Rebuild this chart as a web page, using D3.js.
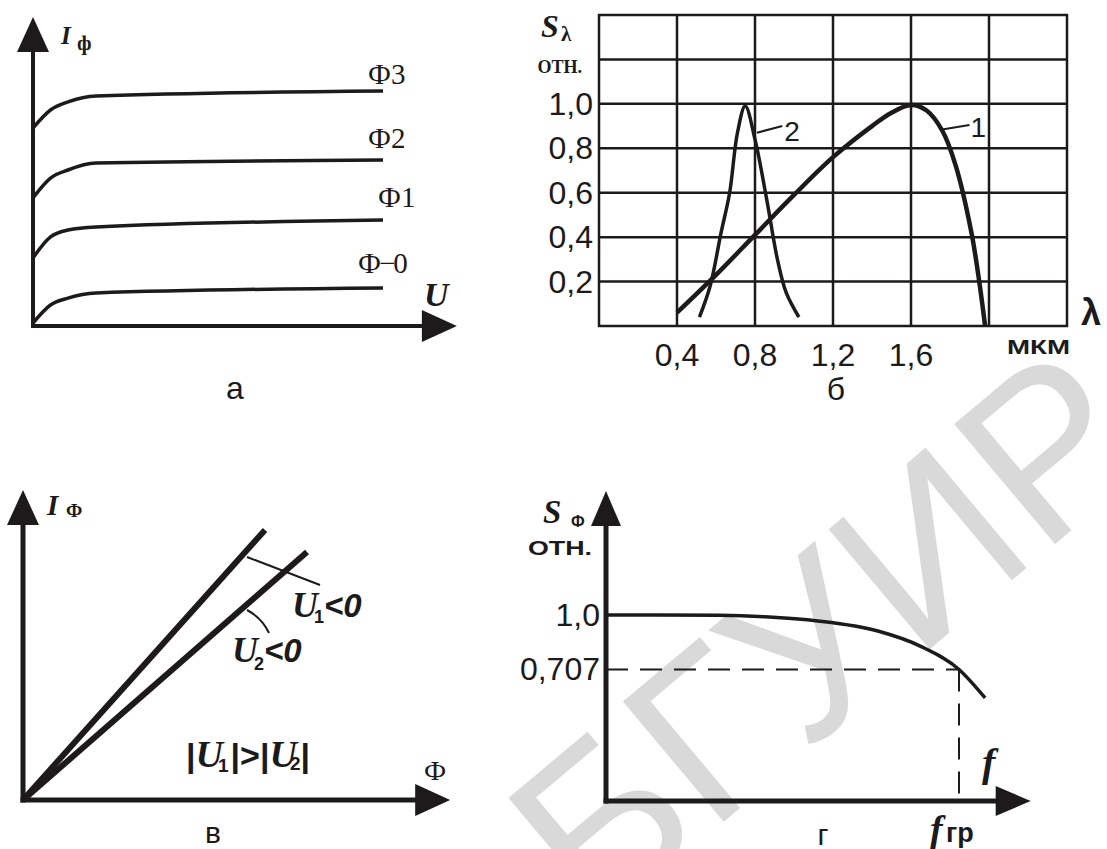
<!DOCTYPE html>
<html>
<head>
<meta charset="utf-8">
<script src="https://cdn.jsdelivr.net/npm/d3@7"></script>
<style>
  body { margin: 0; background: #fff; }
  text { fill: #1c1a1a; }
</style>
</head>
<body>
<div id="chart"></div>
<script>
// ---- panel а : I(U) for several fluxes
var uVals  = [0, 0.5, 1, 1.8, 10];
var iPhi0  = [0.1, 0.7, 0.93, 1.1, 1.27];
var iPhi1  = [2.27, 2.97, 3.2, 3.3, 3.53];
var iPhi2  = [4.27, 4.93, 5.2, 5.43, 5.53];
var iPhi3  = [6.6, 7.2, 7.47, 7.67, 7.83];
var fluxLabels = ["Ф−0", "Ф1", "Ф2", "Ф3"];

// ---- panel б : spectral sensitivity
var lambdaTicks  = [0.4, 0.8, 1.2, 1.6];
var lambdaLabels = ["0,4", "0,8", "1,2", "1,6"];
var sTicks  = [1.0, 0.8, 0.6, 0.4, 0.2];
var sLabels = ["1,0", "0,8", "0,6", "0,4", "0,2"];
var curve1L = [0.4, 0.6, 0.8, 1.0, 1.2, 1.4, 1.5, 1.6, 1.68, 1.76, 1.83, 1.91, 1.95, 1.98];
var curve1S = [0.06, 0.23, 0.41, 0.59, 0.76, 0.9, 0.96, 0.995, 0.97, 0.88, 0.72, 0.42, 0.2, 0.0];
var curve2L = [0.515, 0.57, 0.626, 0.67, 0.71, 0.75, 0.8, 0.86, 0.915, 0.96, 1.025];
var curve2S = [0.04, 0.18, 0.42, 0.6, 0.87, 0.99, 0.84, 0.57, 0.3, 0.15, 0.04];

// ---- panel в : I(Ф) at two voltages
var line1Phi = [0, 6.05], line1I = [0, 9.0];
var line2Phi = [0, 7.1],  line2I = [0, 8.27];

// ---- panel г : S(f)
var fVals  = [0, 0.15, 0.32, 0.45, 0.6, 0.77, 0.89, 1.0, 1.074];
var sfVals = [1.0, 1.0, 0.998, 0.99, 0.968, 0.914, 0.833, 0.707, 0.554];
var sfTicks  = [1.0, 0.707];
var sfLabels = ["1,0", "0,707"];

var width = 1107, height = 849;
var ink = "#1c1a1a";
var serif = "'Liberation Serif', 'DejaVu Serif', serif";
var sans  = "'Liberation Sans', Arial, sans-serif";

var svg = d3.select("#chart").append("svg")
    .attr("width", width).attr("height", height)
    .style("background", "#fff");

// watermark
svg.append("text")
    .attr("transform", "translate(595,930) rotate(-40)")
    .style("font-family", sans)
    .style("font-size", "228px")
    .style("fill", "#d9d9d9")
    .text("БГУИР");

function arrowHead(g, tip, dir, len, half) {
    // dir: "up" or "right"
    var pts;
    if (dir == "up") pts = [[tip[0], tip[1]], [tip[0] - half, tip[1] + len], [tip[0] + half, tip[1] + len]];
    else pts = [[tip[0], tip[1]], [tip[0] - len, tip[1] - half], [tip[0] - len, tip[1] + half]];
    g.append("polygon").attr("points", pts.join(" ")).attr("fill", ink);
}

function axes(g, x0, y0, yTip, xTip, len, half, sw) {
    g.append("line").attr("x1", x0).attr("y1", y0 + sw / 2).attr("x2", x0).attr("y2", yTip + len - 1)
        .attr("stroke", ink).attr("stroke-width", sw);
    g.append("line").attr("x1", x0 - sw / 2).attr("y1", y0).attr("x2", xTip - len + 1).attr("y2", y0)
        .attr("stroke", ink).attr("stroke-width", sw);
    arrowHead(g, [x0, yTip], "up", len, half);
    arrowHead(g, [xTip, y0], "right", len, half);
}

function addText(g, x, y, str, font, size, weight, style, anchor) {
    return g.append("text").attr("x", x).attr("y", y)
        .style("font-family", font).style("font-size", size + "px")
        .style("font-weight", weight || "normal").style("font-style", style || "normal")
        .attr("text-anchor", anchor || "start")
        .text(str);
}

// ================= panel а
var gA = svg.append("g");
var xA = d3.scaleLinear().domain([0, 10]).range([33, 383]);
var yA = d3.scaleLinear().domain([0, 10]).range([326, 26]);
axes(gA, xA(0), yA(0), yA(10.3), xA(12.11), 35, 16, 4);

var lineA = d3.line().x(d => xA(d[0])).y(d => yA(d[1])).curve(d3.curveMonotoneX);
[iPhi0, iPhi1, iPhi2, iPhi3].forEach(function (arr, k) {
    gA.append("path")
        .attr("d", lineA(uVals.map((u, i) => [u, arr[i]])))
        .attr("fill", "none").attr("stroke", ink).attr("stroke-width", 3.5);
});
var labPos = [[358, 273], [378, 207], [368, 148], [368, 84]];
fluxLabels.forEach(function (t, k) {
    addText(gA, labPos[k][0], labPos[k][1], t, serif, 29).style("letter-spacing", k == 0 ? "-2px" : "0px");
});
addText(gA, 424, 306, "U", serif, 34, "bold", "italic");
addText(gA, 61, 44, "I", serif, 25, "bold", "italic");
addText(gA, 77, 50, "ф", serif, 21, "bold");
addText(gA, 235, 399, "а", sans, 32, "normal", "normal", "middle");

// ================= panel б
var gB = svg.append("g");
var xB = d3.scaleLinear().domain([0, 2.4]).range([599, 1067]);
var yB = d3.scaleLinear().domain([0, 1.4]).range([326, 15]);
var gridX = d3.range(0, 2.41, 0.4), gridY = d3.range(0, 1.41, 0.2);
gB.selectAll(".vx").data(gridX).enter().append("line")
    .attr("x1", d => xB(d)).attr("x2", d => xB(d)).attr("y1", yB(0) + 1).attr("y2", yB(1.4) - 1)
    .attr("stroke", ink).attr("stroke-width", 2.5);
gB.selectAll(".hy").data(gridY).enter().append("line")
    .attr("y1", d => yB(d)).attr("y2", d => yB(d)).attr("x1", xB(0) - 1).attr("x2", xB(2.4) + 1)
    .attr("stroke", ink).attr("stroke-width", 2.5);

var lineB = d3.line().x(d => xB(d[0])).y(d => yB(d[1])).curve(d3.curveCatmullRom);
gB.append("path").attr("d", lineB(curve1L.map((l, i) => [l, curve1S[i]])))
    .attr("fill", "none").attr("stroke", ink).attr("stroke-width", 4.5);
gB.append("path").attr("d", lineB(curve2L.map((l, i) => [l, curve2S[i]])))
    .attr("fill", "none").attr("stroke", ink).attr("stroke-width", 3.5);

// curve number leaders
gB.append("line").attr("x1", xB(0.81)).attr("y1", yB(0.87)).attr("x2", xB(0.94)).attr("y2", yB(0.9))
    .attr("stroke", ink).attr("stroke-width", 2);
addText(gB, xB(0.95), yB(0.835), "2", sans, 28);
gB.append("line").attr("x1", xB(1.76)).attr("y1", yB(0.885)).attr("x2", xB(1.9)).attr("y2", yB(0.905))
    .attr("stroke", ink).attr("stroke-width", 2);
addText(gB, xB(1.905), yB(0.85), "1", sans, 28);

sTicks.forEach(function (v, i) {
    addText(gB, 593, yB(v) + 11, sLabels[i], sans, 32, "normal", "normal", "end");
});
lambdaTicks.forEach(function (v, i) {
    addText(gB, xB(v), 366, lambdaLabels[i], sans, 32, "normal", "normal", "middle");
});
addText(gB, 541, 37, "S", serif, 32, "bold", "italic");
addText(gB, 561, 41, "λ", serif, 21, "bold");
addText(gB, 582, 73, "ОТН.", serif, 18, "bold", "normal", "end");
addText(gB, 1081, 325, "λ", sans, 36, "bold");
addText(gB, 1007, 354, "МКМ", sans, 20, "bold").attr("textLength", 63).attr("lengthAdjust", "spacingAndGlyphs");
addText(gB, 836, 400, "б", sans, 32, "normal", "normal", "middle");

// ================= panel в
var gC = svg.append("g");
var xC = d3.scaleLinear().domain([0, 10]).range([23, 423]);
var yC = d3.scaleLinear().domain([0, 10]).range([800, 500]);
axes(gC, xC(0), yC(0), yC(10.33), xC(10.68), 35, 16, 5);
var lineC = d3.line().x(d => xC(d[0])).y(d => yC(d[1]));
[[line1Phi, line1I], [line2Phi, line2I]].forEach(function (p) {
    gC.append("path").attr("d", lineC(p[0].map((v, i) => [v, p[1][i]])))
        .attr("fill", "none").attr("stroke", ink).attr("stroke-width", 6);
});
// leaders
gC.append("line").attr("x1", 247).attr("y1", 557).attr("x2", 320).attr("y2", 585)
    .attr("stroke", ink).attr("stroke-width", 2);
gC.append("path").attr("d", "M247,610 Q262,618 269,633")
    .attr("fill", "none").attr("stroke", ink).attr("stroke-width", 2);

function uLabel(g, x, y, sub, tail, subDy) {
    var t = g.append("text").attr("x", x).attr("y", y);
    t.append("tspan").style("font-family", serif).style("font-size", "36px")
        .style("font-style", "italic").style("font-weight", "bold").text("U");
    t.append("tspan").style("font-family", sans).style("font-size", "18px").attr("dx", -4).attr("dy", subDy)
        .style("font-weight", "bold").text(sub);
    t.append("tspan").style("font-family", sans).style("font-size", "33px").attr("dy", -subDy)
        .style("font-style", "italic").style("font-weight", "bold").text(tail);
    return t;
}
uLabel(gC, 292, 617, "1", "<0", 6);
uLabel(gC, 232, 662, "2", "<0", 8);

var tt = gC.append("text").attr("x", 186).attr("y", 767)
    .style("font-family", sans).style("font-size", "34px").style("font-weight", "bold");
tt.append("tspan").text("|");
tt.append("tspan").style("font-family", serif).style("font-style", "italic").style("font-size", "38px").text("U");
tt.append("tspan").style("font-size", "19px").attr("dx", -5).attr("dy", 5).text("1");
tt.append("tspan").attr("dy", -5).attr("dx", 2).text("|>|");
tt.append("tspan").style("font-family", serif).style("font-style", "italic").style("font-size", "38px").text("U");
tt.append("tspan").style("font-size", "19px").attr("dx", -7).attr("dy", 3).text("2");
tt.append("tspan").attr("dy", -3).text("|");

addText(gC, 47, 515, "I", serif, 29, "bold", "italic");
addText(gC, 66, 517, "Ф", serif, 19, "bold");
addText(gC, 424, 780, "Ф", serif, 28);
addText(gC, 213, 843, "в", sans, 30, "normal", "normal", "middle");

// ================= panel г
var gD = svg.append("g");
var xD = d3.scaleLinear().domain([0, 1]).range([606, 959]);
var yD = d3.scaleLinear().domain([0, 1]).range([801, 615]);
axes(gD, xD(0), yD(0), yD(1.666), xD(1.203), 35, 15, 5);

// guides at 0.707 / f_гр
gD.append("line").attr("x1", xD(0)).attr("x2", xD(1)).attr("y1", yD(0.707)).attr("y2", yD(0.707))
    .attr("stroke", ink).attr("stroke-width", 2).attr("stroke-dasharray", "22,12");
gD.append("line").attr("x1", xD(1)).attr("x2", xD(1)).attr("y1", yD(0.707)).attr("y2", yD(0))
    .attr("stroke", ink).attr("stroke-width", 2).attr("stroke-dasharray", "22,12");

var lineD = d3.line().x(d => xD(d[0])).y(d => yD(d[1])).curve(d3.curveMonotoneX);
gD.append("path").attr("d", lineD(fVals.map((f, i) => [f, sfVals[i]])))
    .attr("fill", "none").attr("stroke", ink).attr("stroke-width", 3.5);

sfTicks.forEach(function (v, i) {
    addText(gD, 600, yD(v) + 11, sfLabels[i], sans, 32, "normal", "normal", "end");
});
addText(gD, 543, 523, "S", serif, 33, "bold", "italic");
addText(gD, 571, 527, "Ф", sans, 16, "bold");
addText(gD, 528, 555, "ОТН.", sans, 20, "bold").attr("textLength", 64).attr("lengthAdjust", "spacingAndGlyphs");
addText(gD, 982, 776, "f", serif, 40, "bold", "italic");
addText(gD, 930, 842, "f", serif, 38, "bold", "italic");
addText(gD, 946, 842, "гр", sans, 27, "bold");
addText(gD, 823, 845, "г", sans, 30, "normal", "normal", "middle");
</script>
</body>
</html>
